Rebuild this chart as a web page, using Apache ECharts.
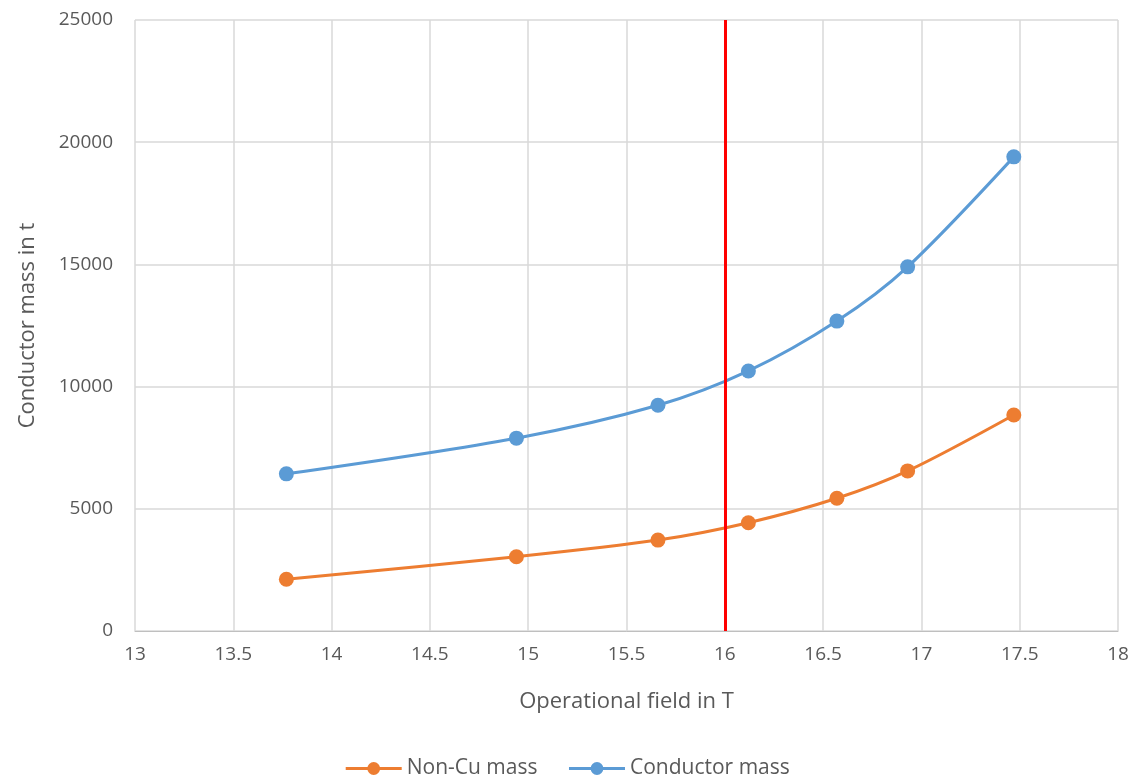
<!DOCTYPE html>
<html>
<head>
<meta charset="utf-8">
<script src="https://cdn.jsdelivr.net/npm/echarts@6/dist/echarts.min.js"></script>
<style>html,body{margin:0;padding:0;background:#fff}#c{width:1134px;height:784px}</style>
</head>
<body>
<div id="c"></div>
<script>
const field = [13.77, 14.94, 15.66, 16.12, 16.57, 16.93, 17.47];
const nonCuMass = [2120, 3040, 3720, 4430, 5430, 6550, 8840];
const conductorMass = [6430, 7890, 9235, 10640, 12680, 14900, 19400];
const seriesNames = ['Non-Cu mass', 'Conductor mass'];
const markerField = 16;

const chart = echarts.init(document.getElementById('c'));
const font = '"Open Sans", sans-serif';
chart.setOption({
  animation: false,
  grid: {left: 135, right: 16, top: 20, bottom: 153},
  legend: {
    bottom: 0, left: 'center', itemWidth: 56, itemHeight: 16, itemGap: 30,
    lineStyle: {width: 3},
    textStyle: {fontFamily: font, fontSize: 21, color: '#595959'},
    data: seriesNames
  },
  xAxis: {
    type: 'value', min: 13, max: 18, interval: 0.5,
    name: 'Operational field in T', nameLocation: 'middle', nameGap: 60,
    nameTextStyle: {fontFamily: font, fontSize: 22, color: '#595959'},
    axisLine: {show: true, lineStyle: {color: '#bfbfbf', width: 1}},
    axisTick: {show: false},
    axisLabel: {fontFamily: font, fontSize: 19, color: '#595959', margin: 14},
    splitLine: {show: true, lineStyle: {color: '#d9d9d9', width: 1.5}}
  },
  yAxis: {
    type: 'value', min: 0, max: 25000, interval: 5000,
    name: 'Conductor mass in t', nameLocation: 'middle', nameGap: 96,
    nameTextStyle: {fontFamily: font, fontSize: 22, color: '#595959'},
    axisLine: {show: false}, axisTick: {show: false},
    axisLabel: {fontFamily: font, fontSize: 19, color: '#595959', margin: 22,
      formatter: v => String(v)},
    splitLine: {show: true, lineStyle: {color: '#d9d9d9', width: 1.5}}
  },
  series: [
    {
      name: seriesNames[0], type: 'line', smooth: 0.3,
      data: field.map((x, i) => [x, nonCuMass[i]]),
      symbol: 'circle', symbolSize: 15,
      lineStyle: {color: '#ed7d31', width: 3}, itemStyle: {color: '#ed7d31'},
      z: 3
    },
    {
      name: seriesNames[1], type: 'line', smooth: 0.3,
      data: field.map((x, i) => [x, conductorMass[i]]),
      symbol: 'circle', symbolSize: 15,
      lineStyle: {color: '#5b9bd5', width: 3}, itemStyle: {color: '#5b9bd5'},
      z: 3,
      markLine: {
        silent: true, symbol: ['none', 'none'], label: {show: false},
        lineStyle: {color: '#ff0000', width: 3, type: 'solid'},
        data: [[{coord: [markerField, 0]}, {coord: [markerField, 25000]}]],
        z: 4
      }
    }
  ]
});
</script>
</body>
</html>
